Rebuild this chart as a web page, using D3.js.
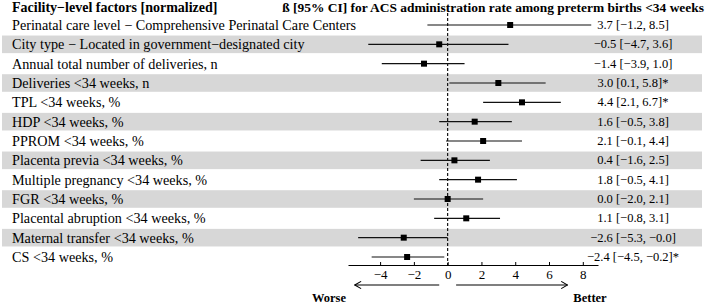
<!DOCTYPE html>
<html>
<head>
<meta charset="utf-8">
<script src="https://cdn.jsdelivr.net/npm/d3@7"></script>
<style>
  html, body { margin: 0; padding: 0; background: #fff; }
  svg { display: block; font-family: "Liberation Serif", "DejaVu Serif", serif; }
</style>
</head>
<body>
<svg id="chart" width="709" height="304"></svg>
<script>
const labels = [
  "Perinatal care level \u2212 Comprehensive Perinatal Care Centers",
  "City type \u2212 Located in government\u2212designated city",
  "Annual total number of deliveries, n",
  "Deliveries <34 weeks, n",
  "TPL <34 weeks, %",
  "HDP <34 weeks, %",
  "PPROM <34 weeks, %",
  "Placenta previa <34 weeks, %",
  "Multiple pregnancy <34 weeks, %",
  "FGR <34 weeks, %",
  "Placental abruption <34 weeks, %",
  "Maternal transfer <34 weeks, %",
  "CS <34 weeks, %"
];
const estimates = [3.7, -0.5, -1.4, 3.0, 4.4, 1.6, 2.1, 0.4, 1.8, 0.0, 1.1, -2.6, -2.4];
const lower     = [-1.2, -4.7, -3.9, 0.1, 2.1, -0.5, -0.1, -1.6, -0.5, -2.0, -0.8, -5.3, -4.5];
const upper     = [8.5, 3.6, 1.0, 5.8, 6.7, 3.8, 4.4, 2.5, 4.1, 2.1, 3.1, -0.0, -0.2];
const ciText = [
  "3.7 [\u22121.2, 8.5]",
  "\u22120.5 [\u22124.7, 3.6]",
  "\u22121.4 [\u22123.9, 1.0]",
  "3.0 [0.1, 5.8]*",
  "4.4 [2.1, 6.7]*",
  "1.6 [\u22120.5, 3.8]",
  "2.1 [\u22120.1, 4.4]",
  "0.4 [\u22121.6, 2.5]",
  "1.8 [\u22120.5, 4.1]",
  "0.0 [\u22122.0, 2.1]",
  "1.1 [\u22120.8, 3.1]",
  "\u22122.6 [\u22125.3, \u22120.0]",
  "\u22122.4 [\u22124.5, \u22120.2]*"
];
const tickValues = [-4, -2, 0, 2, 4, 6, 8];

const svg = d3.select("#chart");
const rowIdx = d3.range(labels.length);

const y = d3.scalePoint().domain(rowIdx).range([25, 257]);
const x = d3.scaleLinear().domain([-5.9, 8.9]).range([348, 598]);

// striped row backgrounds
svg.append("g").selectAll("rect")
  .data(rowIdx.filter(i => i % 2 === 1)).enter().append("rect")
  .attr("x", 2).attr("width", 700)
  .attr("y", i => y(i) - 8.8).attr("height", 17.6)
  .attr("fill", "#d7d7d7");

// headers
svg.append("text").attr("x", 12).attr("y", 7)
  .attr("dominant-baseline", "central")
  .attr("font-size", 14).attr("font-weight", "bold")
  .text("Facility\u2212level factors [normalized]");
svg.append("text").attr("x", 704).attr("y", 7)
  .attr("dominant-baseline", "central").attr("text-anchor", "end")
  .attr("font-size", 13.45).attr("font-weight", "bold")
  .text("\u00df [95% CI] for ACS administration rate among preterm births <34 weeks");

// row labels
svg.append("g").selectAll("text")
  .data(rowIdx).enter().append("text")
  .attr("x", 12).attr("y", i => y(i))
  .attr("dominant-baseline", "central")
  .attr("font-size", 14.2)
  .text(i => labels[i]);

// estimate text
svg.append("g").selectAll("text")
  .data(rowIdx).enter().append("text")
  .attr("x", 633).attr("y", i => y(i))
  .attr("dominant-baseline", "central").attr("text-anchor", "middle")
  .attr("font-size", 12.5)
  .text(i => ciText[i]);

// reference line at zero
svg.append("line")
  .attr("x1", x(0)).attr("x2", x(0))
  .attr("y1", 13).attr("y2", 265)
  .attr("stroke", "#000").attr("stroke-width", 1.1)
  .attr("stroke-dasharray", "3,2");

// CIs
svg.append("g").selectAll("line")
  .data(rowIdx).enter().append("line")
  .attr("x1", i => x(lower[i])).attr("x2", i => x(upper[i]))
  .attr("y1", i => y(i)).attr("y2", i => y(i))
  .attr("stroke", "#111").attr("stroke-width", 1.2);

svg.append("g").selectAll("rect")
  .data(rowIdx).enter().append("rect")
  .attr("x", i => x(estimates[i]) - 3).attr("y", i => y(i) - 3)
  .attr("width", 6).attr("height", 6)
  .attr("fill", "#000");

// x axis
const axis = svg.append("g").attr("transform", "translate(0,265)")
  .call(d3.axisBottom(x).tickValues(tickValues).tickSizeInner(-3).tickSizeOuter(0).tickPadding(5)
    .tickFormat(d => d < 0 ? "\u2212" + Math.abs(d) : d));
axis.select(".domain").attr("stroke", "#000").attr("stroke-width", 1.1);
axis.selectAll(".tick line").attr("stroke", "#000");
axis.selectAll(".tick text")
  .attr("font-family", "Liberation Serif").attr("font-size", 13).attr("fill", "#000");

// direction arrows
const defs = svg.append("defs");
defs.append("marker")
  .attr("id", "head")
  .attr("viewBox", "0 -5 10 10")
  .attr("refX", 9).attr("refY", 0)
  .attr("orient", "auto")
  .attr("markerUnits", "userSpaceOnUse")
  .attr("markerWidth", 8).attr("markerHeight", 9)
  .append("path")
  .attr("d", "M1,-4.5L9,0L1,4.5")
  .attr("fill", "none").attr("stroke", "#000").attr("stroke-width", 1.3);

svg.append("line")
  .attr("x1", x(-0.5)).attr("x2", x(-5.5))
  .attr("y1", 285).attr("y2", 285)
  .attr("stroke", "#000").attr("stroke-width", 1.2)
  .attr("marker-end", "url(#head)");
svg.append("line")
  .attr("x1", x(0.5)).attr("x2", x(7.1))
  .attr("y1", 285).attr("y2", 285)
  .attr("stroke", "#000").attr("stroke-width", 1.2)
  .attr("marker-end", "url(#head)");

svg.append("text").attr("x", 329).attr("y", 298)
  .attr("dominant-baseline", "central").attr("text-anchor", "middle")
  .attr("font-size", 12.5).attr("font-weight", "bold").text("Worse");
svg.append("text").attr("x", 590).attr("y", 298)
  .attr("dominant-baseline", "central").attr("text-anchor", "middle")
  .attr("font-size", 12.5).attr("font-weight", "bold").text("Better");
</script>
</body>
</html>
